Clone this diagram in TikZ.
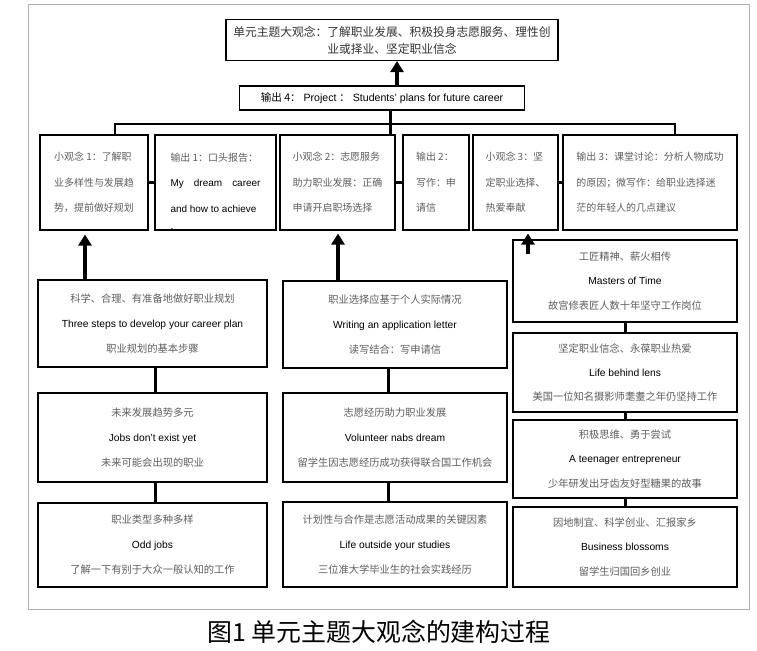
\documentclass[tikz,border=0pt]{standalone}
\usepackage{fontspec}
\setmainfont{Liberation Sans}
\newfontfamily\cjk{Noto Sans CJK SC}
\usetikzlibrary{arrows.meta}
\definecolor{zhgray}{HTML}{5E5E5E}
\definecolor{framegray}{HTML}{B0B0B0}
\newcommand\ZhT{\cjk\color{zhgray}}
\newcommand\EnT{\rmfamily\color{black}}
\tikzset{
  box/.style={draw=black, line width=1.1bp, inner sep=0pt, align=center},
  lbox/.style={box, align=left, font=\fontsize{10}{25.5}\selectfont\ZhT, minimum height=95bp},
  cbox/.style={box, align=center, minimum width=226bp},
  conn/.style={line width=3bp},
  brk/.style={line width=2.4bp},
  uparrow/.style={line width=3.8bp, -{Triangle[width=13bp,length=11bp]}},
}
\begin{document}
\begin{tikzpicture}[x=1bp,y=-1bp]
\useasboundingbox (0,0) rectangle (757,651);
\fill[white] (0,0) rectangle (757,651);
\draw[framegray, line width=1bp] (28,5) rectangle (749,609);

% top
\node[box, minimum width=332bp, minimum height=41bp,
      font=\fontsize{11.8}{17}\selectfont\cjk\color{black!80}] (top) at (392,40)
  {单元主题大观念：了解职业发展、积极投身志愿服务、理性创\\业或择业、坚定职业信念};
\node[box, minimum width=285bp, minimum height=24bp,
      font=\fontsize{10.6}{12}\selectfont] (out4) at (382,98)
  {{\cjk 输出 4：} Project {\cjk ：} Students' plans for future career};
\coordinate (ax) at (397,0);
\draw[uparrow] (out4.north -| ax) -- (top.south -| ax);

% row 2
\node[lbox, minimum width=108bp] (b1) at (94,182.5)
  {小观念 1：了解职\\业多样性与发展趋\\势，提前做好规划};
\node[lbox, minimum width=121bp] (b2) at (215.5,182.5)
  {输出 1：口头报告：\\{\EnT\makebox[90bp][s]{My dream career}}\\{\EnT\rlap{\smash{\raisebox{-17bp}{.}}}and how to achieve}};
\node[lbox, minimum width=115bp] (b3) at (337.5,182.5)
  {小观念 2：志愿服务\\助力职业发展：正确\\申请开启职场选择};
\node[lbox, minimum width=66bp] (b4) at (436,182.5)
  {输出 2：\\写作：申\\请信};
\node[lbox, minimum width=85bp] (b5) at (515.5,182.5)
  {小观念 3：坚\\定职业选择、\\热爱奉献};
\node[lbox, minimum width=174bp] (b6) at (650,182.5)
  {输出 3：课堂讨论：分析人物成功\\的原因；微写作：给职业选择迷\\茫的年轻人的几点建议};

\draw[conn] (b1.east) -- (b2.west);
\draw[conn] (b3.east) -- (b4.west);
\draw[conn] (b5.east) -- (b6.west);

\coordinate (brL) at (115,124);
\coordinate (brR) at (675,124);
\coordinate (st) at (390,0);
\draw[brk] (b1.north -| brL) -- (brL) -- (brR) -- (b6.north -| brR);
\draw[conn] (out4.south -| st) -- (b3.north -| st);

% left column
\begin{scope}[every node/.style={cbox, minimum width=229bp, font=\fontsize{10.3}{25}\selectfont\ZhT}]
\node[minimum height=87bp] (L1) at (152.5,323.5)
  {科学、合理、有准备地做好职业规划\\{\EnT Three steps to develop your career plan}\\职业规划的基本步骤};
\node[minimum height=89bp] (L2) at (152.5,437.5)
  {未来发展趋势多元\\{\EnT Jobs don't exist yet}\\未来可能会出现的职业};
\node[minimum height=84bp] (L3) at (152.5,545)
  {职业类型多种多样\\{\EnT Odd jobs}\\了解一下有别于大众一般认知的工作};
\end{scope}

% middle column
\begin{scope}[every node/.style={cbox, minimum width=224bp, font=\fontsize{10.3}{25}\selectfont\ZhT}]
\node[minimum height=87bp] (M1) at (395,324.5)
  {职业选择应基于个人实际情况\\{\EnT Writing an application letter}\\读写结合：写申请信};
\node[minimum height=89bp] (M2) at (395,437.5)
  {志愿经历助力职业发展\\{\EnT Volunteer nabs dream}\\留学生因志愿经历成功获得联合国工作机会};
\node[minimum height=85bp] (M3) at (395,544.5)
  {计划性与合作是志愿活动成果的关键因素\\{\EnT Life outside your studies}\\三位准大学毕业生的社会实践经历};
\end{scope}

% right column
\begin{scope}[every node/.style={cbox, minimum width=224bp, font=\fontsize{10.3}{24.5}\selectfont\ZhT}]
\node[minimum height=82bp] (R1) at (625,281)
  {工匠精神、薪火相传\\{\EnT Masters of Time}\\故宫修表匠人数十年坚守工作岗位};
\node[minimum height=79bp] (R2) at (625,372.5)
  {坚定职业信念、永葆职业热爱\\{\EnT Life behind lens}\\美国一位知名摄影师耄耋之年仍坚持工作};
\node[minimum height=78bp] (R3) at (625,459)
  {积极思维、勇于尝试\\{\EnT A teenager entrepreneur}\\少年研发出牙齿友好型糖果的故事};
\node[minimum height=80bp] (R4) at (625,547)
  {因地制宜、科学创业、汇报家乡\\{\EnT Business blossoms}\\留学生归国回乡创业};
\end{scope}

\coordinate (sl) at (155,0);
\coordinate (sm) at (388,0);
\draw[conn] (L1.south -| sl) -- (L2.north -| sl);
\draw[conn] (L2.south -| sl) -- (L3.north -| sl);
\draw[conn] (M1.south -| sm) -- (M2.north -| sm);
\draw[conn] (M2.south -| sm) -- (M3.north -| sm);
\draw[conn] (R1.south) -- (R2.north);
\draw[conn] (R2.south) -- (R3.north);
\draw[conn] (R3.south) -- (R4.north);

% arrows into row 2
\coordinate (a1) at (85,0);
\coordinate (a2) at (338,0);
\coordinate (a3) at (528,254);
\draw[uparrow, shorten >=4bp] (L1.north -| a1) -- (b1.south -| a1);
\draw[uparrow, shorten >=3bp] (M1.north -| a2) -- (b3.south -| a2);
\draw[uparrow, shorten >=3bp] (a3) -- (b5.south -| a3);

% caption
\node[font=\fontsize{25}{25}\selectfont\cjk] (cap) at (379,632) {图1 单元主题大观念的建构过程};
\end{tikzpicture}
\end{document}
